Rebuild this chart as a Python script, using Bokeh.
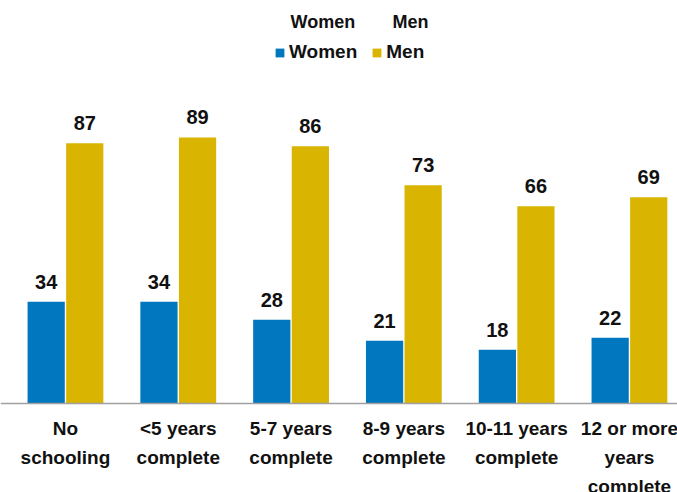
from bokeh.plotting import figure
from bokeh.models import ColumnDataSource, Range1d, LabelSet, Label, Legend, LegendItem, Span
from bokeh.core.properties import value
from bokeh.embed import file_html
from bokeh.resources import INLINE
import numpy as np

categories = ["No\nschooling", "<5 years\ncomplete", "5-7 years\ncomplete",
              "8-9 years\ncomplete", "10-11 years\ncomplete", "12 or more\nyears\ncomplete"]
women = [34, 34, 28, 21, 18, 22]
men = [87, 89, 86, 73, 66, 69]

BLUE = "#0077BE"
GOLD = "#D9B400"
FONT = "Liberation Sans"
INK = "#111111"

W, H = 677, 492
pos = np.arange(len(categories))
src_w = ColumnDataSource(dict(x=pos - 0.171, v=women, t=[str(v) for v in women]))
src_m = ColumnDataSource(dict(x=pos + 0.171, v=men, t=[str(v) for v in men]))
src_c = ColumnDataSource(dict(x=pos, y=np.zeros(len(pos)), t=categories))

p = figure(width=W, height=H, output_backend="svg", toolbar_location=None,
           x_range=Range1d(-0.576, 5.426), y_range=Range1d(-29.77, 134.78),
           min_border_left=0, min_border_right=0, min_border_top=0, min_border_bottom=0)
p.outline_line_color = None
p.xgrid.visible = False
p.ygrid.visible = False
p.xaxis.visible = False
p.yaxis.visible = False

rw = p.vbar(x="x", top="v", width=0.33, source=src_w, fill_color=BLUE, line_color=None)
rm = p.vbar(x="x", top="v", width=0.33, source=src_m, fill_color=GOLD, line_color=None)

p.add_layout(Span(location=0, dimension="width", line_color="#A0A0A0", line_width=1.5))

for src in (src_w, src_m):
    p.add_layout(LabelSet(x="x", y="v", text="t", source=src, text_align="center",
                          text_baseline="alphabetic", y_offset=13, text_font=value(FONT),
                          text_font_size="20px", text_font_style="bold", text_color=INK))

p.text(x="x", y="y", text="t", source=src_c, text_align="center", text_baseline="top",
       y_offset=15, text_font=value(FONT), text_font_size="19px", text_font_style="bold",
       text_color=INK, text_line_height=1.38)

legend = Legend(items=[LegendItem(label="Women", renderers=[rw]),
                       LegendItem(label="Men", renderers=[rm])],
                orientation="horizontal", location=(274, H - 63),
                glyph_width=11, glyph_height=11, label_standoff=4, spacing=14,
                padding=0, margin=0, border_line_color=None, background_fill_alpha=0,
                label_text_font=FONT, label_text_font_size="19px", label_text_font_style="bold",
                label_text_color=INK)
p.add_layout(legend)

for txt, x in (("Women", 290), ("Men", 392)):
    p.add_layout(Label(x=x, y=H - 21, x_units="screen", y_units="screen", text=txt,
                       text_font=FONT, text_font_size="18px", text_font_style="bold",
                       text_baseline="middle", text_color=INK))

open("out.html", "w").write(file_html(p, INLINE))
